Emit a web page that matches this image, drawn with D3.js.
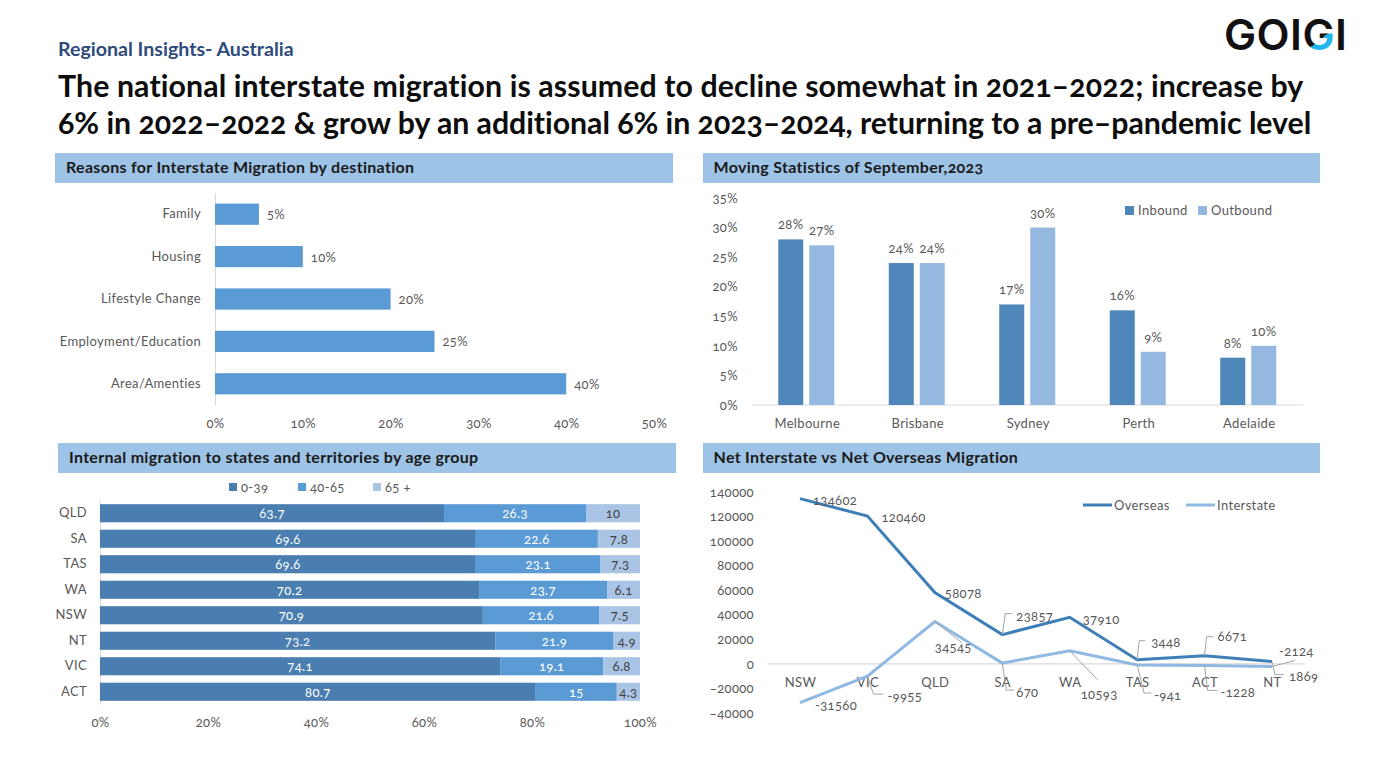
<!DOCTYPE html>
<html><head><meta charset="utf-8">
<script src="https://cdn.jsdelivr.net/npm/d3@7"></script>
<style>
html,body{margin:0;padding:0;background:#fff;overflow:hidden}
svg{display:block}
text{font-family:Lato,"Open Sans",sans-serif;font-variant-numeric:oldstyle-nums;}
.tick text,.lab{fill:#595959;font-size:13px;letter-spacing:.35px}
</style></head><body>
<svg id="c" width="1377" height="758"></svg>
<script>
// ---------- data ----------
const reasonCats=["Family","Housing","Lifestyle Change","Employment/Education","Area/Amenties"];
const reasonVals=[5,10,20,25,40];
const cities=["Melbourne","Brisbane","Sydney","Perth","Adelaide"];
const inbound=[28,24,17,16,8];
const outbound=[27,24,30,9,10];
const states=["QLD","SA","TAS","WA","NSW","NT","VIC","ACT"];
const age0=[63.7,69.6,69.6,70.2,70.9,73.2,74.1,80.7];
const age40=[26.3,22.6,23.1,23.7,21.6,21.9,19.1,15];
const age65=[10,7.8,7.3,6.1,7.5,4.9,6.8,4.3];
const netStates=["NSW","VIC","QLD","SA","WA","TAS","ACT","NT"];
const overseas=[134602,120460,58078,23857,37910,3448,6671,1869];
const interstate=[-31560,-9955,34545,670,10593,-941,-1228,-2124];
const yTicksNet=[-40000,-20000,0,20000,40000,60000,80000,100000,120000,140000];

// ---------- layout (label anchors and leader bends, px offset from the point) ----------
const overseasOff=[[13,6],[14,6],[10,5],[14,-14],[13,7],[14,-13],[13,-15],[17,19]];
const interstateOff=[[15,7],[20,25],[0,31],[14,34],[11,48],[17,35],[16,32],[7,-10]];
const overseasLead=[null,null,null,[[3,-21],[10,-21]],null,[[2,-19],[8,-19]],[[2,-19],[9,-19]],[[3,13],[12,13]]];
const interstateLead=[null,[[6,18],[16,18]],[[27,21]],[[4,27],[12,27]],[[28,29]],[[7,28],[14,28]],[[3,25],[13,25]],[[23,-6]]];
const C={dark:"#4A7EB0",mid:"#5B9BD5",light:"#A9C4E4",band:"#9DC3E6",bar:"#5B9BD5",
  in:"#4F87BA",out:"#95B8E0",lineA:"#3F7FB8",lineB:"#8FB8E3",grid:"#D9D9D9"};
const svg=d3.select("#c");
const fmtPct=d=>d+"%";

// header
svg.append("text").attr("x",58).attr("y",56).attr("fill","#2F4B7C").attr("font-size",19.6).attr("font-weight",700).text("Regional Insights- Australia");
svg.append("text").attr("x",58).attr("y",97).attr("fill","#0d0d0d").attr("font-size",30.3).attr("font-weight",700).style("letter-spacing","0.1px").text("The national interstate migration is assumed to decline somewhat in 2021–2022; increase by");
svg.append("text").attr("x",58).attr("y",134).attr("fill","#0d0d0d").attr("font-size",30.3).attr("font-weight",700).style("letter-spacing","-0.05px").text("6% in 2022–2022 & grow by an additional 6% in 2023–2024, returning to a pre–pandemic level");

// logo
const defs=svg.append("defs");
const lg=defs.append("linearGradient").attr("id","logoG").attr("gradientUnits","userSpaceOnUse")
 .attr("x1",1312).attr("y1",46).attr("x2",1326).attr("y2",64);
lg.append("stop").attr("offset","0").attr("stop-color","#111");
lg.append("stop").attr("offset","0").attr("stop-color","#1FB6EE");
const logo=svg.append("text").attr("x",1224).attr("y",50).attr("font-size",43).attr("font-weight",600).attr("fill","#111")
 .style("font-family","Inter,Lato,sans-serif").style("letter-spacing","0.4px").style("font-variant-numeric","normal");
logo.append("tspan").text("GOI");
logo.append("tspan").attr("fill","url(#logoG)").text("G");
logo.append("tspan").text("I");

// section bands
const bands=[[55,153,618,"Reasons for Interstate Migration by destination",66],
 [703,153,617,"Moving Statistics of September,2023",713.5],
 [58,443,618,"Internal migration to states and territories by age group",69],
 [703,443,617,"Net Interstate vs Net Overseas Migration",713.5]];
bands.forEach(b=>{
 svg.append("rect").attr("x",b[0]).attr("y",b[1]).attr("width",b[2]).attr("height",30).attr("fill",C.band);
 svg.append("text").attr("x",b[4]).attr("y",b[1]+20).attr("font-size",16).attr("font-weight",700).style("letter-spacing",".3px").attr("fill","#1a1a1a").text(b[3]);
});

function styleAxis(g,line=true){
 g.selectAll(".tick line").remove();
 g.select(".domain").attr("stroke",C.grid).attr("stroke-width",1.2);
 if(!line) g.select(".domain").remove();
}

// chart 1
{
 const x=d3.scaleLinear().domain([0,50]).range([215,654]);
 const y=d3.scaleBand().domain(reasonCats).range([193,405]).paddingInner(.5).paddingOuter(.25);
 svg.append("g").attr("transform","translate(0,405)").call(d3.axisBottom(x).tickValues([0,10,20,30,40,50]).tickFormat(fmtPct).tickSizeOuter(0))
  .call(g=>{styleAxis(g,false);g.selectAll("text").attr("y",14)});
 svg.append("g").attr("transform","translate(215,0)").call(d3.axisLeft(y).tickSizeOuter(0)).call(g=>{styleAxis(g);g.selectAll("text").attr("x",-14)});
 svg.selectAll(".r1").data(reasonVals).join("rect").attr("x",x(0)).attr("y",(d,i)=>y(reasonCats[i])).attr("width",d=>x(d)-x(0)).attr("height",y.bandwidth()).attr("fill",C.bar);
 svg.selectAll(".r1l").data(reasonVals).join("text").attr("class","lab").attr("x",d=>x(d)+8).attr("y",(d,i)=>y(reasonCats[i])+y.bandwidth()/2+5).text(fmtPct);
}
// chart 2
{
 const x=d3.scaleBand().domain(cities).range([752,1304.5]);
 const y=d3.scaleLinear().domain([0,35]).range([405,198]);
 svg.append("g").attr("transform","translate(0,405)").call(d3.axisBottom(x).tickSizeOuter(0)).call(g=>{styleAxis(g);g.select(".domain").attr("d","M752,0H1303");g.selectAll("text").attr("y",14)});
 svg.append("g").attr("transform","translate(752,0)").call(d3.axisLeft(y).tickValues(d3.range(0,36,5)).tickFormat(fmtPct)).call(g=>{styleAxis(g,false);g.selectAll("text").attr("x",-14)});
 const bw=25,gap=6;
 [[inbound,C.in,-1],[outbound,C.out,0]].forEach(([vals,col,k])=>{
  const off=k<0?-bw-gap/2:gap/2;
  svg.selectAll(".b"+col.slice(1)).data(vals).join("rect").attr("x",(d,i)=>x(cities[i])+x.bandwidth()/2+off-1).attr("y",d=>y(d)).attr("width",bw).attr("height",d=>405-y(d)).attr("fill",col);
  svg.selectAll(".l"+col.slice(1)).data(vals).join("text").attr("class","lab").attr("text-anchor","middle").attr("x",(d,i)=>x(cities[i])+x.bandwidth()/2+off-1+bw/2).attr("y",d=>y(d)-10).text(fmtPct);
 });
 [["Inbound",C.in,1125],["Outbound",C.out,1198]].forEach(([t,c,px])=>{
  svg.append("rect").attr("x",px).attr("y",206).attr("width",9).attr("height",9).attr("fill",c);
  svg.append("text").attr("class","lab").attr("x",px+13).attr("y",215).text(t);
 });
}
// chart 3
{
 const x=d3.scaleLinear().domain([0,100]).range([100,640]);
 const y=d3.scaleBand().domain(states).range([500.5,704.5]).paddingInner(.29).paddingOuter(.145);
 svg.append("g").attr("transform","translate(0,705)").call(d3.axisBottom(x).tickValues([0,20,40,60,80,100]).tickFormat(fmtPct).tickSizeOuter(0)).call(g=>{styleAxis(g,false);g.selectAll("text").attr("y",13)});
 svg.append("g").attr("transform","translate(100,0)").call(d3.axisLeft(y).tickSizeOuter(0)).call(g=>{styleAxis(g);g.selectAll("text").attr("x",-13)});
 const ser=[[age0,C.dark,"#fff"],[age40,C.mid,"#fff"],[age65,C.light,"#404040"]];
 states.forEach((s,i)=>{
  let acc=0;
  ser.forEach(([v,col,tc])=>{
   const a=acc;acc+=v[i];
   const sc=100/(age0[i]+age40[i]+age65[i]);
   svg.append("rect").attr("x",x(a*sc)).attr("y",y(s)).attr("width",x(v[i]*sc)-x(0)).attr("height",y.bandwidth()).attr("fill",col);
   svg.append("text").attr("class","lab").style("fill",tc).attr("text-anchor","middle").attr("x",x((a+v[i]/2)*sc)).attr("y",y(s)+y.bandwidth()/2+5).text(v[i]);
  });
 });
 [["0-39",C.dark,229],["40-65",C.mid,298],["65 +",C.light,373]].forEach(([t,c,px])=>{
  svg.append("rect").attr("x",px).attr("y",483).attr("width",8).attr("height",8).attr("fill",c);
  svg.append("text").attr("class","lab").attr("x",px+12).attr("y",492).text(t);
 });
}
// chart 4
{
 const x=d3.scalePoint().domain(netStates).range([800,1272]);
 const y=d3.scaleLinear().domain([-40000,140000]).range([713,492]);
 svg.append("g").attr("transform",`translate(0,${y(0)})`).call(d3.axisBottom(x).tickSizeOuter(0)).call(g=>{
  styleAxis(g);g.select(".domain").attr("d","M768,0H1305");g.selectAll("text").attr("y",14)});
 svg.append("g").attr("transform","translate(768,0)").call(d3.axisLeft(y).tickValues(yTicksNet).tickFormat(d3.format("d"))).call(g=>{styleAxis(g,false);g.selectAll("text").attr("x",-14)});
 const ln=d3.line().x((d,i)=>x(netStates[i])).y(d=>y(d));
 svg.append("path").datum(interstate).attr("d",ln).attr("fill","none").attr("stroke",C.lineB).attr("stroke-width",3);
 svg.append("path").datum(overseas).attr("d",ln).attr("fill","none").attr("stroke",C.lineA).attr("stroke-width",3);
 [[overseas,overseasOff,overseasLead],[interstate,interstateOff,interstateLead]].forEach(([v,o,l])=>{
  v.forEach((d,i)=>{
   const px=x(netStates[i]),py=y(d);
   if(l[i]) svg.append("path").attr("d",`M${px},${py}`+l[i].map(p=>`L${px+p[0]},${py+p[1]}`).join("")).attr("fill","none").attr("stroke","#a6a6a6");
   svg.append("text").attr("class","lab").attr("x",px+o[i][0]).attr("y",py+o[i][1]).text(d);
  });
 });
 [["Overseas",C.lineA,1083],["Interstate",C.lineB,1186]].forEach(([t,c,px])=>{
  svg.append("line").attr("x1",px).attr("x2",px+29).attr("y1",505).attr("y2",505).attr("stroke",c).attr("stroke-width",3);
  svg.append("text").attr("class","lab").attr("x",px+31).attr("y",510).text(t);
 });
}
</script>
</body></html>
